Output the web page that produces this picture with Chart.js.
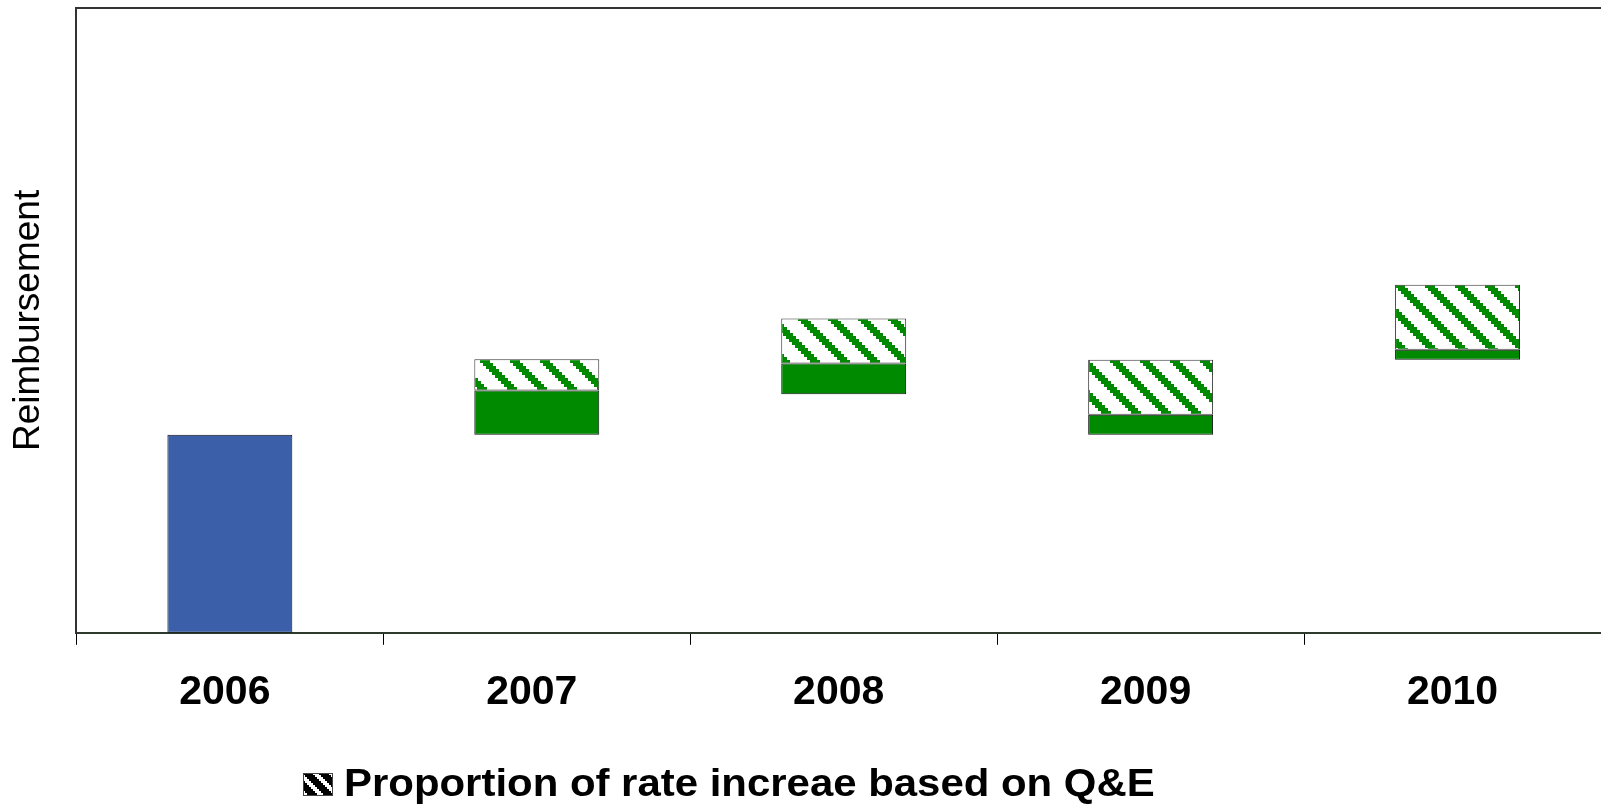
<!DOCTYPE html>
<html>
<head>
<meta charset="utf-8">
<title>Reimbursement</title>
<script src="https://cdn.jsdelivr.net/npm/chart.js@4.4.1/dist/chart.umd.min.js"></script>
<style>
  html, body { margin: 0; padding: 0; background: #fff; overflow: hidden; }
  #wrap { width: 1611px; height: 805px; position: relative; }
</style>
</head>
<body>
<div id="wrap"><canvas id="chart"></canvas></div>
<script>
// Years on the category axis
const years = ['2006', '2007', '2008', '2009', '2010'];

// Reimbursement level in 2006 (floating bar [from, to])
const reimbursement2006 = [[0, 31.7], null, null, null, null];

// Part of each year's rate increase not tied to Q&E
const baseRateIncrease = [null, [31.7, 38.8], [38.2, 43.1], [31.7, 34.9], [43.7, 45.3]];

// Part of each year's rate increase based on Q&E
const qeRateIncrease = [null, [38.8, 43.8], [43.1, 50.3], [34.9, 43.7], [45.3, 55.7]];

const legendText = 'Proportion of rate increae based on Q&E';
const axisTitle = 'Reimbursement';

const BLUE = '#3b5fa8';
const GREEN = '#008a00';

// Diagonal stepped hatch tile
function makeHatch(color, bg) {
  const size = 30;
  const c = document.createElement('canvas');
  c.width = size; c.height = size;
  const g = c.getContext('2d');
  g.fillStyle = bg;
  g.fillRect(0, 0, size, size);
  g.fillStyle = color;
  for (let y = 0; y < size; y++) {
    const yq = Math.floor(y / 3) * 3;
    for (let x = 0; x < size; x++) {
      const d = (((x - yq) % size) + size) % size;
      if (d < 10) g.fillRect(x, y, 1, 1);
    }
  }
  return c;
}

// Coarser black hatch for the legend swatch
function makeSwatchHatch() {
  const size = 16;
  const c = document.createElement('canvas');
  c.width = size; c.height = size;
  const g = c.getContext('2d');
  g.fillStyle = '#ffffff';
  g.fillRect(0, 0, size, size);
  g.fillStyle = '#000000';
  for (let y = 0; y < size; y++) {
    const yq = Math.floor(y / 2) * 2;
    for (let x = 0; x < size; x++) {
      const d = (((x - yq) % size) + size) % size;
      if (d < 10) g.fillRect(x, y, 1, 1);
    }
  }
  return c;
}

const ctx = document.getElementById('chart').getContext('2d');
const greenHatch = ctx.createPattern(makeHatch(GREEN, '#ffffff'), 'repeat');
const swatchTile = makeSwatchHatch();

Chart.defaults.font.family = '"Liberation Sans", Arial, sans-serif';
Chart.defaults.color = '#000';

// Top frame line of the plot area
const frameTop = {
  id: 'frameTop',
  afterDatasetsDraw(chart) {
    const { ctx, chartArea } = chart;
    ctx.save();
    ctx.strokeStyle = '#333';
    ctx.lineWidth = 2;
    ctx.beginPath();
    ctx.moveTo(chartArea.left, chartArea.top);
    ctx.lineTo(chartArea.right, chartArea.top);
    ctx.stroke();
    ctx.restore();
  }
};

// Single-entry legend below the axis, text drawn slightly wide
const wideLegend = {
  id: 'wideLegend',
  afterDraw(chart) {
    const { ctx } = chart;
    const bx = 303, by = 773, bw = 30, bh = 23;
    ctx.save();
    const pat = ctx.createPattern(swatchTile, 'repeat');
    ctx.translate(bx, by);
    ctx.fillStyle = pat;
    ctx.fillRect(0, 0, bw, bh);
    ctx.strokeStyle = '#444';
    ctx.lineWidth = 1;
    ctx.strokeRect(0.5, 0.5, bw - 1, bh - 1);
    ctx.restore();

    ctx.save();
    ctx.font = 'bold 39px "Liberation Sans", Arial, sans-serif';
    ctx.fillStyle = '#000';
    ctx.textBaseline = 'alphabetic';
    ctx.textAlign = 'left';
    ctx.translate(344, 796);
    ctx.scale(1.075, 1);
    ctx.fillText(legendText, 0, 0);
    ctx.restore();
  }
};

new Chart(ctx, {
  type: 'bar',
  data: {
    labels: years,
    datasets: [
      {
        label: 'Reimbursement',
        data: reimbursement2006,
        backgroundColor: BLUE,
        borderColor: '#111',
        borderWidth: 1,
        borderSkipped: false,
        grouped: false,
        barPercentage: 0.407,
        categoryPercentage: 1
      },
      {
        label: 'Rate increase',
        data: baseRateIncrease,
        backgroundColor: GREEN,
        borderColor: '#111',
        borderWidth: 1,
        borderSkipped: false,
        grouped: false,
        barPercentage: 0.407,
        categoryPercentage: 1
      },
      {
        label: legendText,
        data: qeRateIncrease,
        backgroundColor: greenHatch,
        borderColor: '#333',
        borderWidth: 1,
        borderSkipped: false,
        grouped: false,
        barPercentage: 0.407,
        categoryPercentage: 1
      }
    ]
  },
  options: {
    responsive: true,
    maintainAspectRatio: false,
    animation: false,
    layout: { padding: { top: 8, left: 0, right: 0, bottom: 65 } },
    plugins: {
      legend: { display: false },
      tooltip: { enabled: false },
      title: { display: false }
    },
    scales: {
      x: {
        offset: true,
        grid: {
          offset: true,
          drawOnChartArea: false,
          drawTicks: true,
          tickLength: 12,
          color: '#000',
          lineWidth: 1
        },
        border: { display: true, color: '#2e3a2e', width: 2 },
        ticks: {
          padding: 23,
          labelOffset: -5,
          font: { size: 41, weight: 'bold' },
          color: '#000'
        }
      },
      y: {
        min: 0,
        max: 100,
        grid: { display: false, drawTicks: false },
        border: { display: true, color: '#333', width: 2 },
        ticks: { display: false },
        title: {
          display: true,
          text: axisTitle,
          font: { size: 37 },
          color: '#000',
          padding: { top: 7, bottom: 25 }
        }
      }
    }
  },
  plugins: [frameTop, wideLegend]
});
</script>
</body>
</html>
